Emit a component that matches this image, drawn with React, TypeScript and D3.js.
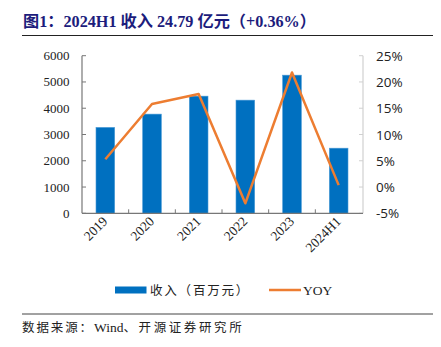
import React from "react";
import * as d3 from "d3";

const categories = ["2019", "2020", "2021", "2022", "2023", "2024H1"];
const revenue = [3270, 3776, 4460, 4308, 5259, 2479];
const yoy = [5.3, 15.8, 17.7, -3.1, 21.8, 0.36];
const leftTicks = [0, 1000, 2000, 3000, 4000, 5000, 6000];
const rightTicks = [-5, 0, 5, 10, 15, 20, 25];

const W = 441;
const H = 347;
const serif = "'Liberation Serif', 'Times New Roman', 'Noto Sans CJK SC', serif";
const cjkSerif = "'Liberation Serif', 'Noto Sans CJK SC', serif";
const sans = "'Open Sans', 'Liberation Sans', sans-serif";

export default function App() {
  const x0 = 82, x1 = 362, yTop = 55.7, yBot = 213.3;
  const x = d3.scaleBand<string>().domain(categories).range([x0, x1]).paddingInner(0.6).paddingOuter(0.3);
  const xc = d3.scaleBand<string>().domain(categories).range([x0, x1]);
  const yL = d3.scaleLinear().domain([0, 6000]).range([yBot, yTop]);
  const yR = d3.scaleLinear().domain([-5, 25]).range([yBot, yTop]);
  const line = d3
    .line<number>()
    .x((_, i) => xc(categories[i])! + xc.bandwidth() / 2)
    .y((d) => yR(d));

  return (
    <svg width={W} height={H} style={{ position: "absolute", left: 0, top: 0 }}>
      <rect width={W} height={H} fill="#fff" />
      <text x={23} y={27} fontFamily={cjkSerif} fontWeight="bold" fontSize={16.2} fill="#1c1c7c">
        图1：2024H1 收入 24.79 亿元（+0.36%）
      </text>
      <line x1={22} x2={433} y1={35.5} y2={35.5} stroke="#222" strokeWidth={1} />

      {/* left axis */}
      <line x1={x0} x2={x0} y1={yTop} y2={yBot} stroke="#777" strokeWidth={1.2} />
      {leftTicks.map((t) => (
        <g key={t}>
          <line x1={x0} x2={x0 + 4} y1={yL(t)} y2={yL(t)} stroke="#777" />
          <text x={69.5} y={yL(t) + 4.5} textAnchor="end" fontFamily={serif} fontSize={13} fill="#222">
            {t}
          </text>
        </g>
      ))}

      {/* right axis */}
      <line x1={x1 + 1} x2={x1 + 1} y1={yTop} y2={yBot} stroke="#d0d0d0" strokeWidth={1.2} />
      {rightTicks.map((t) => (
        <g key={t}>
          <line x1={x1 - 3} x2={x1 + 1} y1={yR(t)} y2={yR(t)} stroke="#d0d0d0" />
          <text x={376} y={yR(t) + 5} fontFamily={sans} fontSize={13.5} fill="#222">
            {t}%
          </text>
        </g>
      ))}

      {/* bars */}
      {revenue.map((v, i) => (
        <rect
          key={i}
          x={x(categories[i])}
          y={yL(v)}
          width={x.bandwidth()}
          height={yBot - yL(v)}
          fill="#0070c0"
          stroke="#4a9ad6"
          strokeWidth={0.6}
        />
      ))}

      {/* bottom axis */}
      <line x1={x0} x2={x1 + 1} y1={yBot} y2={yBot} stroke="#777" strokeWidth={1.2} />
      {categories.map((c, i) =>
        i === 0 ? null : (
          <line key={c} x1={xc(c)} x2={xc(c)} y1={yBot} y2={yBot - 4} stroke="#777" />
        )
      )}
      {categories.map((c) => {
        const cx = xc(c)! + xc.bandwidth() / 2 + 3;
        const cy = yBot + 9;
        return (
          <text
            key={c}
            x={cx}
            y={cy}
            textAnchor="end"
            transform={`rotate(-45 ${cx} ${cy})`}
            fontFamily={serif}
            fontSize={13.5}
            fill="#222"
          >
            {c}
          </text>
        );
      })}

      {/* YOY line */}
      <path d={line(yoy)!} fill="none" stroke="#ed7d31" strokeWidth={2.5} strokeLinejoin="round" />

      {/* legend */}
      <rect x={115} y={286.5} width={31.5} height={7} fill="#0070c0" />
      <text x={150} y={295} fontFamily={cjkSerif} fontSize={12.5} fill="#222" letterSpacing={1.8}>
        收入（百万元）
      </text>
      <line x1={269} x2={301} y1={290} y2={290} stroke="#ed7d31" strokeWidth={2.5} />
      <text x={303} y={295} fontFamily={serif} fontSize={13.5} fill="#222">
        YOY
      </text>

      {/* footer */}
      <line x1={22} x2={433} y1={314} y2={314} stroke="#444" strokeWidth={1} />
      <text x={22} y={332} fontFamily={cjkSerif} fontSize={12.5} fill="#222">
        <tspan letterSpacing={1.9}>数据来源：</tspan>
        <tspan fontSize={13.5}>Wind</tspan>
        <tspan letterSpacing={2.6}>、开源证券研究所</tspan>
      </text>
    </svg>
  );
}
